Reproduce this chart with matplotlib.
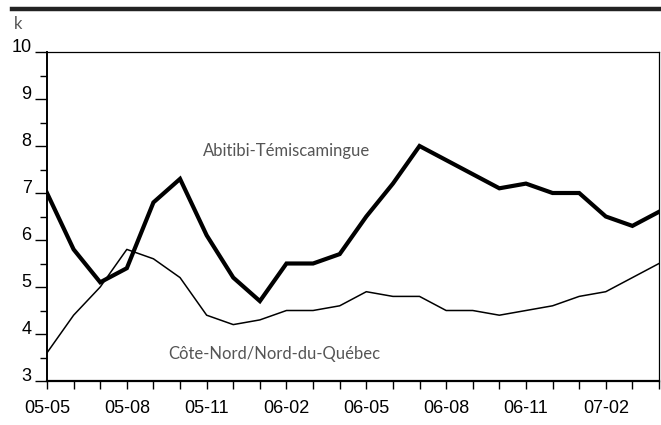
import numpy as np
import matplotlib.pyplot as plt
from matplotlib.lines import Line2D
from matplotlib.ticker import MultipleLocator
plt.rcParams["font.family"] = "Liberation Sans"

months = ["05-05", "05-06", "05-07", "05-08", "05-09", "05-10", "05-11", "05-12",
          "06-01", "06-02", "06-03", "06-04", "06-05", "06-06", "06-07", "06-08",
          "06-09", "06-10", "06-11", "06-12", "07-01", "07-02", "07-03", "07-04"]

abitibi = [7.0, 5.8, 5.1, 5.4, 6.8, 7.3, 6.1, 5.2, 4.7, 5.5, 5.5, 5.7,
           6.5, 7.2, 8.0, 7.7, 7.4, 7.1, 7.2, 7.0, 7.0, 6.5, 6.3, 6.6]
cote_nord = [3.6, 4.4, 5.0, 5.8, 5.6, 5.2, 4.4, 4.2, 4.3, 4.5, 4.5, 4.6,
             4.9, 4.8, 4.8, 4.5, 4.5, 4.4, 4.5, 4.6, 4.8, 4.9, 5.2, 5.5]

x = np.arange(len(months))

fig = plt.figure(figsize=(6.61, 4.25), dpi=100)
ax = fig.add_axes([47/661, 1 - 381/425, 612/661, 329/425])

ax.plot(x, abitibi, color='black', lw=3, solid_joinstyle='miter')
ax.plot(x, cote_nord, color='black', lw=1.1)

ax.set_xlim(0, len(months) - 1)
ax.set_ylim(3, 10)

ax.set_xticks(x)
ax.set_xticklabels([m if i % 3 == 0 else "" for i, m in enumerate(months)], fontsize=13)
ax.tick_params(axis='x', length=6, width=1, direction='out', pad=8)

ax.yaxis.set_major_locator(MultipleLocator(1))
ax.yaxis.set_minor_locator(MultipleLocator(0.5))
ax.tick_params(axis='y', which='major', length=9, width=1, pad=2, labelsize=13)
ax.tick_params(axis='y', which='minor', length=5, width=1)
for lab in ax.get_yticklabels():
    lab.set_verticalalignment('baseline')

ax.spines['left'].set_linewidth(1.4)
ax.spines['bottom'].set_linewidth(1.6)
ax.spines['top'].set_linewidth(0.9)
ax.spines['right'].set_linewidth(0.9)

ax.text(5.85, 7.9, "Abitibi-Témiscamingue", fontsize=12, color='#555555',
        family='Lato', va='center')
ax.text(4.55, 3.57, "Côte-Nord/Nord-du-Québec", fontsize=12, color='#555555',
        family='Lato', va='center')

# top rule and unit label
fig.add_artist(Line2D([12/661, 1], [1 - 9/425, 1 - 9/425], color='#222222', lw=3.2))
fig.text(14/661, 1 - 24/425, "k", fontsize=12, color='#555555', family='Lato', va='center')

fig.savefig("out.png", dpi=100)
